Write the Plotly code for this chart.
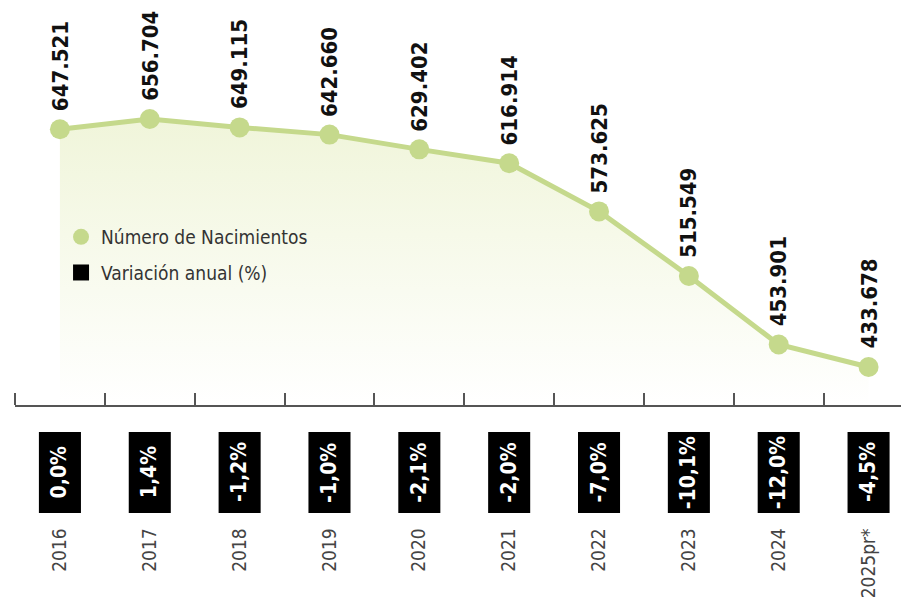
import plotly.graph_objects as go

years = ["2016", "2017", "2018", "2019", "2020", "2021", "2022", "2023", "2024", "2025pr*"]
births = [647521, 656704, 649115, 642660, 629402, 616914, 573625, 515549, 453901, 433678]
birth_labels = ["647.521", "656.704", "649.115", "642.660", "629.402",
                "616.914", "573.625", "515.549", "453.901", "433.678"]
variation_labels = ["0,0%", "1,4%", "-1,2%", "-1,0%", "-2,1%",
                    "-2,0%", "-7,0%", "-10,1%", "-12,0%", "-4,5%"]

FONT = "DejaVu Sans Condensed, Liberation Sans Narrow, sans-serif"
GREEN = "#c5d98c"
Y_MIN, Y_MAX = 399510, 756524

fig = go.Figure()

fig.add_trace(go.Scatter(
    x=list(range(len(years))), y=births, mode="lines+markers",
    line=dict(color=GREEN, width=5),
    marker=dict(color=GREEN, size=20),
    fill="tozeroy",
    fillgradient=dict(type="vertical", colorscale=[[0, "#ffffff"], [1, "#f0f5da"]],
                      start=Y_MIN, stop=max(births)),
    showlegend=False, hoverinfo="skip",
))

# legend entries
fig.add_trace(go.Scatter(x=[None], y=[None], mode="markers", name="Número de Nacimientos",
                         legendgroup="a",
                         marker=dict(color=GREEN, size=18, symbol="circle")))
fig.add_trace(go.Scatter(x=[None], y=[None], mode="markers", name="Variación anual (%)",
                         legendgroup="b",
                         marker=dict(color="#000000", size=16, symbol="square")))

for i, (v, lab) in enumerate(zip(births, birth_labels)):
    fig.add_annotation(x=i, y=v, text=lab, textangle=-90, showarrow=False,
                       xanchor="center", yanchor="bottom", yshift=16,
                       font=dict(family=FONT, size=22, color="#111111", weight="bold"))

for i, lab in enumerate(variation_labels):
    fig.add_shape(type="rect", xref="x", yref="paper",
                  x0=i - 0.234, x1=i + 0.234, y0=-0.272, y1=-0.068,
                  fillcolor="#000000", line=dict(width=0), layer="above")
    fig.add_annotation(x=i, y=-0.170, yref="paper", text=lab, textangle=-90,
                       showarrow=False, xanchor="center", yanchor="middle",
                       font=dict(family=FONT, size=21, color="#ffffff", weight="bold"))

fig.update_layout(
    width=901, height=599,
    margin=dict(l=7, r=0, t=0, b=202, autoexpand=False),
    plot_bgcolor="white", paper_bgcolor="white",
    font=dict(family=FONT),
    legend=dict(x=0.0515, y=0.378, xanchor="left", yanchor="middle",
                bgcolor="rgba(0,0,0,0)", itemwidth=30,
                font=dict(family=FONT, size=19, color="#333333"),
                tracegroupgap=8),
    xaxis=dict(tickmode="array", tickvals=list(range(len(years))), ticktext=years,
               range=[-0.5, 9.45], ticks="", showline=True,
               linecolor="#555555", linewidth=1.5,
               showgrid=False, zeroline=False, automargin=False,
               tickangle=-90, ticklabelstandoff=114,
               tickfont=dict(family=FONT, size=19, color="#444444"),
               minor=dict(tickmode="array", tickvals=[i - 0.5 for i in range(len(years))],
                          ticks="inside", ticklen=12, tickwidth=1.5,
                          tickcolor="#555555", showgrid=False)),
    yaxis=dict(range=[Y_MIN, Y_MAX], visible=False, showgrid=False, zeroline=False,
               automargin=False),
)

fig.write_html("out.html")
